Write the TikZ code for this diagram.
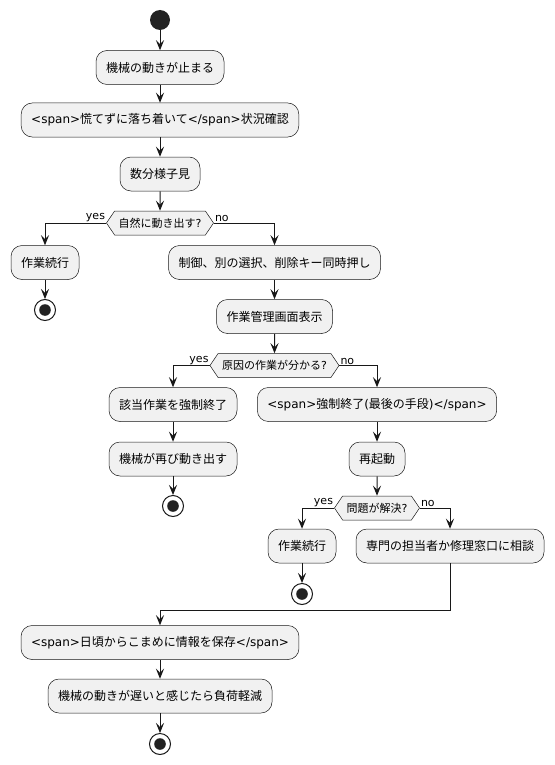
\documentclass[tikz,border=0pt]{standalone}
\usepackage{fontspec}
\setmainfont{Noto Sans CJK JP}
\newfontfamily\dvfont{DejaVu Sans}
\newcommand{\dv}[1]{{\dvfont #1}}
\usetikzlibrary{arrows.meta,shapes.symbols}
\definecolor{uml}{HTML}{181818}
\definecolor{umlbg}{HTML}{F1F1F1}
\definecolor{umldk}{HTML}{222222}
\tikzset{act/.append style={draw=uml, fill=umlbg, line width=0.5pt, rounded corners=11pt, minimum height=34pt, inner xsep=10pt, inner ysep=2pt, font=\fontsize{12}{14}\selectfont}}
\tikzset{dec/.append style={draw=uml, fill=umlbg, line width=0.5pt, signal, signal to=east and west, signal pointer angle=112, minimum height=24pt, inner xsep=4pt, inner ysep=1pt, font=\fontsize{11}{13}\selectfont}}
\tikzset{arr/.append style={draw=uml, line width=1pt, -{Stealth[length=10pt,width=8pt,inset=4pt]}}}
\tikzset{hv/.append style={to path={-| (\tikztotarget)}}}
\tikzset{lbl/.append style={inner sep=1pt, font=\dvfont\fontsize{11}{13}\selectfont}}
\tikzset{ini/.append style={circle, fill=umldk, minimum size=20pt, inner sep=0pt}}
\tikzset{fin/.append style={circle, draw=uml, fill=white, line width=1pt, minimum size=21pt, inner sep=0pt, path picture={\fill[umldk] (path picture bounding box.center) circle (5.8pt);}}}

\begin{document}
\begin{tikzpicture}[x=1pt,y=-1pt]
                \useasboundingbox (0,0) rectangle (554,765);
                % \SetUpVertex
                \node[ini] (s) at (160,20) {};
                \node[act] (a1) at (160,67.5) {機械の動きが止まる};
                \node[act] (a2) at (160,120) {\dv{<span>}慌てずに落ち着いて\dv{</span>}状況確認};
                \node[act] (a3) at (160,174) {数分様子見};
                \node[dec] (d1) at (160,223) {自然に動き出す\dv{?}};
                \node[act] (y1) at (45,262.5) {作業続行};
                \node[fin] (e1) at (45,310) {};
                \node[act] (n1) at (274.5,262.5) {制御、別の選択、削除キー同時押し};
                \node[act] (n2) at (274.5,316.5) {作業管理画面表示};
                \node[dec] (d2) at (274.5,365.5) {原因の作業が分かる\dv{?}};
                \node[act] (y2) at (173,404.5) {該当作業を強制終了};
                \node[act] (y3) at (173,459) {機械が再び動き出す};
                \node[fin] (e2) at (173,506) {};
                \node[act] (n3) at (377,404.5) {\dv{<span>}強制終了\dv{(}最後の手段\dv{)</span>}};
                \node[act] (n4) at (377,459) {再起動};
                \node[dec] (d3) at (377,508) {問題が解決\dv{?}};
                \node[act] (y4) at (302,546) {作業続行};
                \node[fin] (e3) at (302,594) {};
                \node[act] (n5) at (450,546) {専門の担当者か修理窓口に相談};
                \coordinate (m) at (160,610);
                \node[act] (b1) at (160,642.5) {\dv{<span>}日頃からこまめに情報を保存\dv{</span>}};
                \node[act] (b2) at (160,696) {機械の動きが遅いと感じたら負荷軽減};
                \node[fin] (e4) at (160,744) {};
                \node[lbl,anchor=south east] (l1) at (d1.west) {yes};
                \node[lbl,anchor=south west] (l2) at (d1.east) {no};
                \node[lbl,anchor=south east] (l3) at (d2.west) {yes};
                \node[lbl,anchor=south west] (l4) at (d2.east) {no};
                \node[lbl,anchor=south east] (l5) at (d3.west) {yes};
                \node[lbl,anchor=south west] (l6) at (d3.east) {no};
                \path (s) edge[arr] (a1);
                \path (a1) edge[arr] (a2);
                \path (a2) edge[arr] (a3);
                \path (a3) edge[arr] (d1);
                \path (d1.west) edge[arr,hv] (y1);
                \path (d1.east) edge[arr,hv] (n1);
                \path (y1) edge[arr] (e1);
                \path (n1) edge[arr] (n2);
                \path (n2) edge[arr] (d2);
                \path (d2.west) edge[arr,hv] (y2);
                \path (d2.east) edge[arr,hv] (n3);
                \path (y2) edge[arr] (y3);
                \path (y3) edge[arr] (e2);
                \path (n3) edge[arr] (n4);
                \path (n4) edge[arr] (d3);
                \path (d3.west) edge[arr,hv] (y4);
                \path (d3.east) edge[arr,hv] (n5);
                \path (y4) edge[arr] (e3);
                \draw[uml,line width=1pt] (n5.south) |- (m);
                \path (m) edge[arr] (b1);
                \path (b1) edge[arr] (b2);
                \path (b2) edge[arr] (e4);
            \end{tikzpicture}
\end{document}
